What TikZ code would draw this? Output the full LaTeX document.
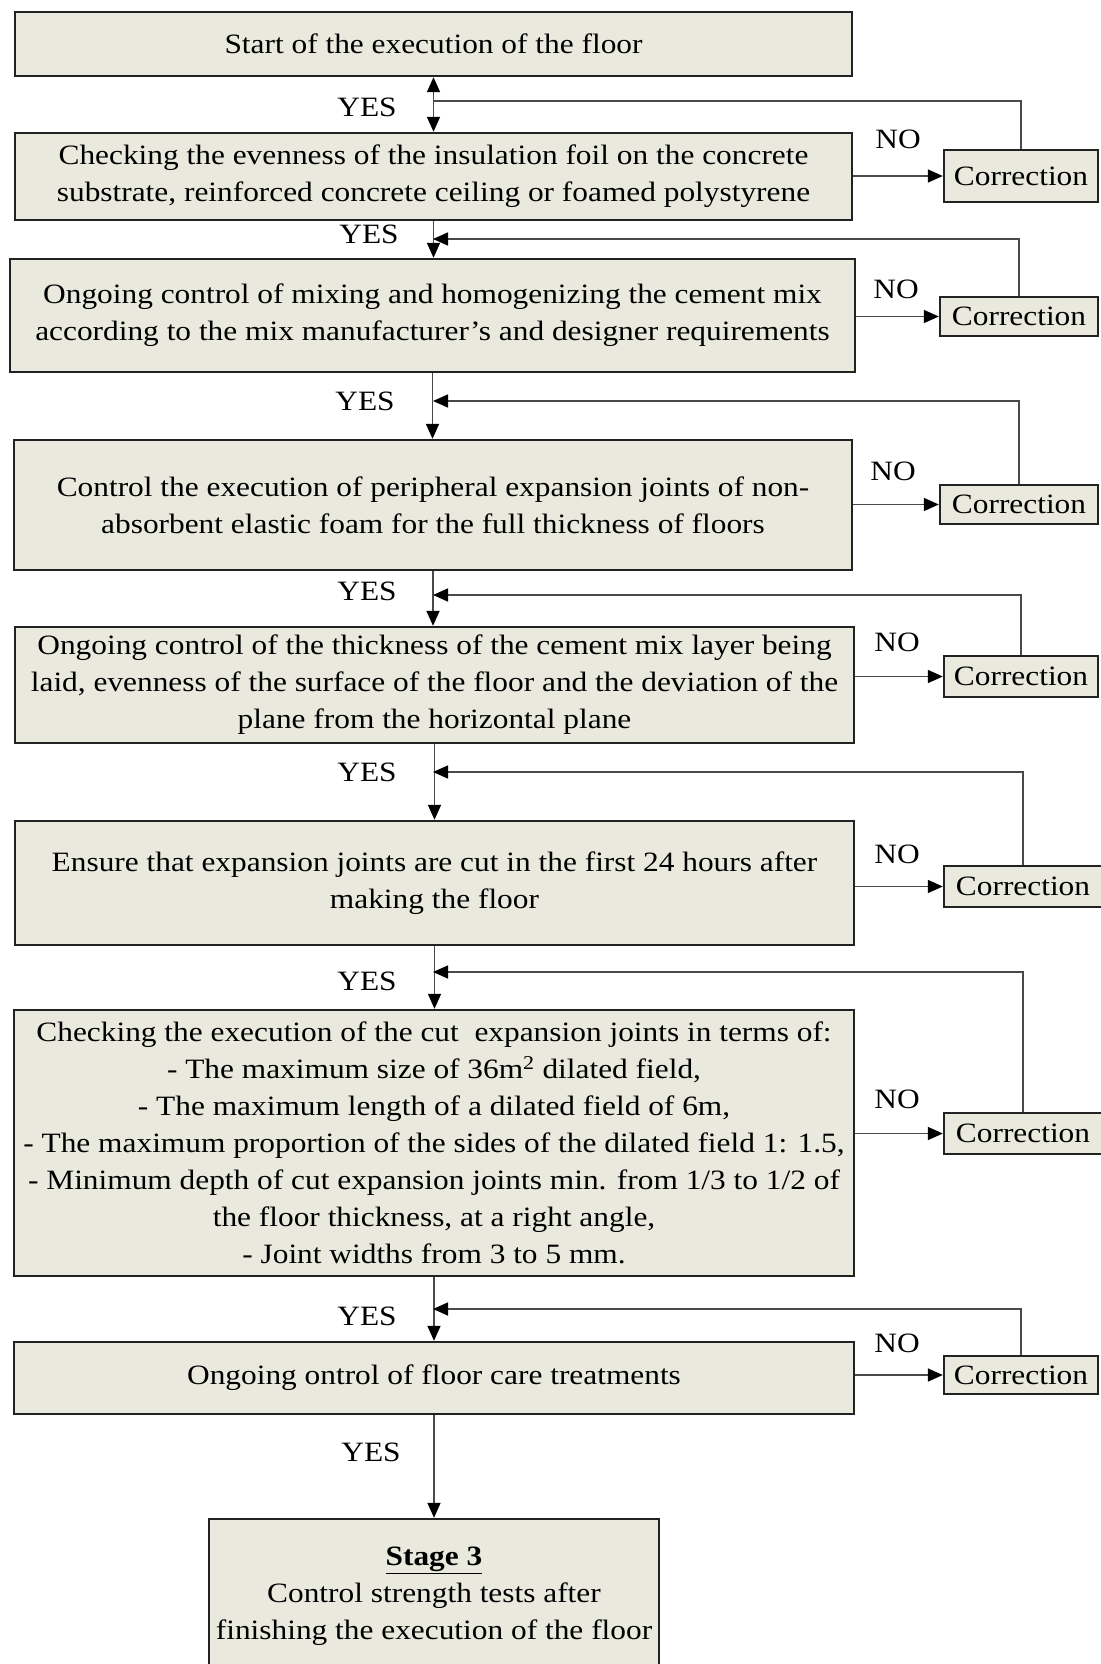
\documentclass[tikz,border=0pt]{standalone}
\usepackage{fontspec}
\setmainfont{Liberation Serif}[FakeStretch=1.12]
\usetikzlibrary{arrows.meta}
\definecolor{boxfill}{HTML}{E9E9DD}
\definecolor{boxline}{HTML}{222222}
\definecolor{connc}{HTML}{4A4A4A}
\begin{document}
\begin{tikzpicture}[x=1pt,y=-1pt,
  mainbox/.style={draw=boxline, line width=2.4pt, fill=boxfill, inner sep=0pt, align=center,
    font=\fontsize{28}{37}\selectfont},
  corrbox/.style={draw=boxline, line width=2.4pt, fill=boxfill, inner sep=0pt, align=center,
    font=\fontsize{28}{30}\selectfont},
  lbl/.style={font=\fontsize{28}{30}\selectfont, inner sep=0pt},
  conn/.style={draw=connc, line width=1.6pt},
  arrowhd/.tip={Triangle[length=15pt,width=13pt,color=black]},
  tip/.style={-arrowhd}
]
\useasboundingbox (0,0) rectangle (1100,1664);
\fill[white] (0,0) rectangle (1100,1664);

% main boxes
\node[mainbox, minimum width=837pt, minimum height=64pt] (b1) at (433.5,44) {Start of the execution of the floor};
\node[mainbox, minimum width=837pt, minimum height=87pt] (b2) at (433.5,176.5) {Checking the evenness of the insulation foil on the concrete\\substrate, reinforced concrete ceiling or foamed polystyrene};
\node[mainbox, minimum width=845pt, minimum height=113pt] (b3) at (432.5,315.5) {Ongoing control of mixing and homogenizing the cement mix\\according to the mix manufacturer's and designer requirements};
\node[mainbox, minimum width=838pt, minimum height=130pt] (b4) at (433,505) {Control the execution of peripheral expansion joints of non-\\absorbent elastic foam for the full thickness of floors};
\node[mainbox, minimum width=839pt, minimum height=116pt] (b5) at (434.5,685) {Ongoing control of the thickness of the cement mix layer being\\laid, evenness of the surface of the floor and the deviation of the\\plane from the horizontal plane};
\node[mainbox, minimum width=839pt, minimum height=124pt] (b6) at (434.5,883) {Ensure that expansion joints are cut in the first 24 hours after\\making the floor};
\node[mainbox, minimum width=840pt, minimum height=266pt] (b7) at (434,1143) {Checking the execution of the cut\ \ expansion joints in terms of:\\- The maximum size of 36m\textsuperscript{2} dilated field,\\- The maximum length of a dilated field of 6m,\\- The maximum proportion of the sides of the dilated field 1: 1.5,\\- Minimum depth of cut expansion joints min. from 1/3 to 1/2 of\\the floor thickness, at a right angle,\\- Joint widths from 3 to 5 mm.};
\node[mainbox, minimum width=840pt, minimum height=72pt] (b8) at (434,1378) {Ongoing ontrol of floor care treatments};
\node[mainbox, minimum width=450pt, minimum height=154pt] (b9) at (434,1596) {\textbf{\underline{Stage 3}}\\Control strength tests after\\finishing the execution of the floor};

% correction boxes
\node[corrbox, minimum width=154pt, minimum height=52pt] (c1) at (1021,176) {Correction};
\node[corrbox, minimum width=158pt, minimum height=39pt] (c2) at (1019,316.5) {Correction};
\node[corrbox, minimum width=158pt, minimum height=39pt] (c3) at (1019,504.5) {Correction};
\node[corrbox, minimum width=154pt, minimum height=41pt] (c4) at (1021,676.5) {Correction};
\node[corrbox, minimum width=158pt, minimum height=41pt] (c5) at (1023,886.5) {Correction};
\node[corrbox, minimum width=158pt, minimum height=41pt] (c6) at (1023,1133.5) {Correction};
\node[corrbox, minimum width=154pt, minimum height=38pt] (c7) at (1021,1375) {Correction};

% return points on main line
\coordinate (r1) at (433,101);
\coordinate (r2) at (433,239);
\coordinate (r3) at (433,401);
\coordinate (r4) at (433,595);
\coordinate (r5) at (433,772);
\coordinate (r6) at (433,972);
\coordinate (r7) at (433,1309);

% vertical flow
\draw[conn,arrowhd-arrowhd] (b1.south) -- (b1.south |- b2.north);
\draw[conn,tip] (b2.south) -- (b2.south |- b3.north);
\draw[conn,tip] (b3.south) -- (b3.south |- b4.north);
\draw[conn,tip] (b4.south) -- (b4.south |- b5.north);
\draw[conn,tip] (b5.south) -- (b5.south |- b6.north);
\draw[conn,tip] (b6.south) -- (b6.south |- b7.north);
\draw[conn,tip] (b7.south) -- (b7.south |- b8.north);
\draw[conn,tip] (b8.south) -- (b8.south |- b9.north);

% NO arrows
\draw[conn,tip] (b2.east |- c1.west) -- (c1.west);
\draw[conn,tip] (b3.east |- c2.west) -- (c2.west);
\draw[conn,tip] (b4.east |- c3.west) -- (c3.west);
\draw[conn,tip] (b5.east |- c4.west) -- (c4.west);
\draw[conn,tip] (b6.east |- c5.west) -- (c5.west);
\draw[conn,tip] (b7.east |- c6.west) -- (c6.west);
\draw[conn,tip] (b8.east |- c7.west) -- (c7.west);

% return lines
\draw[conn] (c1.north) |- (r1);
\draw[conn,tip] (c2.north) |- (r2);
\draw[conn,tip] (c3.north) |- (r3);
\draw[conn,tip] (c4.north) |- (r4);
\draw[conn,tip] (c5.north) |- (r5);
\draw[conn,tip] (c6.north) |- (r6);
\draw[conn,tip] (c7.north) |- (r7);

% labels
\node[lbl] (y1) at (367,107) {YES};
\node[lbl] (y2) at (369,234) {YES};
\node[lbl] (y3) at (365,401) {YES};
\node[lbl] (y4) at (367,591) {YES};
\node[lbl] (y5) at (367,772) {YES};
\node[lbl] (y6) at (367,981) {YES};
\node[lbl] (y7) at (367,1316) {YES};
\node[lbl] (y8) at (371,1452) {YES};
\node[lbl] (n1) at (898,139) {NO};
\node[lbl] (n2) at (896,289) {NO};
\node[lbl] (n3) at (893,471) {NO};
\node[lbl] (n4) at (897,642) {NO};
\node[lbl] (n5) at (897,854) {NO};
\node[lbl] (n6) at (897,1099) {NO};
\node[lbl] (n7) at (897,1343) {NO};
\end{tikzpicture}
\end{document}
